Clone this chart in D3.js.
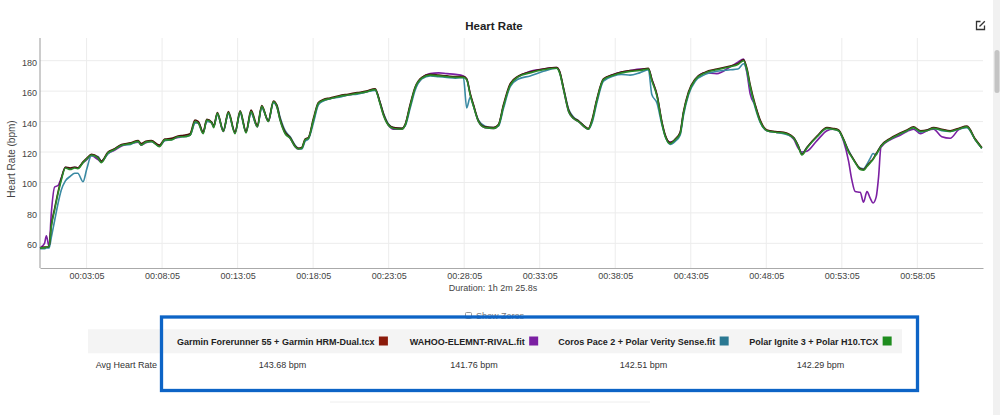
<!DOCTYPE html>
<html><head><meta charset="utf-8">
<script src="https://cdn.jsdelivr.net/npm/d3@7"></script>
<style>
body{margin:0;background:#fff;overflow:hidden}
svg{display:block;font-family:"Liberation Sans",Arial,sans-serif}
</style>
</head><body>
<svg id="c" width="1000" height="415"></svg>
<script>
// ---- DATA ----
const timeMin = [0.0,0.3,0.42,0.6,0.75,0.97,1.19,1.41,1.68,2.0,2.3,2.5,2.85,3.1,3.4,3.84,4.06,4.5,4.9,5.4,6.0,6.5,6.7,7.0,7.37,7.9,8.26,8.7,9.14,9.5,9.93,10.26,10.48,10.8,11.04,11.37,11.5,11.74,12.14,12.47,12.91,13.25,13.64,13.97,14.39,14.68,15.12,15.45,15.67,15.89,16.23,16.56,16.89,17.1,17.33,17.55,17.77,18.1,18.43,18.76,19.2,19.8,20.4,21.0,21.6,22.19,22.5,22.74,23.07,23.4,23.95,24.17,24.5,24.83,25.28,25.83,26.4,26.93,27.5,28.03,28.25,28.48,28.7,29.03,29.47,30.02,30.35,30.68,31.13,31.68,32.45,33.33,34.2,34.4,34.66,35.0,35.32,35.65,36.1,36.31,36.54,36.87,37.3,37.97,38.5,39.07,39.7,40.28,40.5,40.85,41.17,41.4,41.72,42.05,42.38,42.6,42.93,43.38,44.04,44.81,45.7,46.2,46.58,46.8,47.02,47.35,47.68,48.13,48.7,49.23,49.89,50.2,50.44,50.77,51.44,52.1,52.5,52.87,53.2,53.53,53.75,53.97,54.3,54.52,54.75,54.97,55.15,55.36,55.52,55.67,56.29,56.95,57.4,57.83,58.3,58.72,59.16,59.7,60.26,60.8,61.37,61.92,62.35];

const polarH10 = [57,57,57.5,58,71,82,92.5,101.5,109.5,108.5,109.5,109,113,115.5,118,116,113,119.5,121.5,124.5,125.5,127,124.5,126.5,127,123.5,128,128,130,130,131,140,139,132,141,139,136,145.5,133.5,146,132,146.5,132.5,146.5,136.5,150,140,153,150,141,132,129,123.5,122,122.5,128,129,141,152,154,155,156.5,157.5,158.5,159.5,161,152,144,137.5,135.5,135,137.5,150,162,168.5,170.5,170,169.5,169,169,167.5,157.5,150,140,136,135.5,137.5,150,164,169.5,172,174,175,172,161,146.5,142,140,136,135,140,154,167.5,170.5,172,173,173.5,174.5,167,156.5,139,130,125.5,128,132,145.5,158.5,167.5,172,174,176,177.5,180,174,163,150,140,134,133,132.5,129,123.5,118,122.5,130,135.5,135,134,128,120,116.5,113,108.5,108,110.5,113,115,118.5,121,123.5,128.5,132,134,136,133.5,134,135.5,134.5,133.5,135,136.5,128,122.5];

const garminHRM = [57,57.5,57.5,58,72,83,93.5,102.5,110,109.5,110,109.5,113.5,116,118.5,116.5,114,120,122,125,126,127.5,125.5,127,127.5,124.5,128.5,129,130.5,131,132,141,140,133,141.5,139.5,137,146,134,146.5,133,147,133.5,147.5,137.5,150.5,140.5,153.5,151,142,133,129.5,124,122.5,123,128.5,129.5,142,152.5,154.5,155.5,157,158,159,160,161.5,153,145,138,136,135.5,138,151,162.5,169,171,170.5,170,169.5,169.5,168,158.5,151,140.5,136.5,136,138,151,165,170,172.5,174.5,175.5,173,162,147.5,142.5,140.5,136.5,135.5,141,155,168,171,172.5,173.5,174,175,168,157.5,140,131,126,128.5,133,146.5,159.5,168,172.5,174.5,176.5,178,180.5,175,164,151,141,134.5,133.5,133,129.5,124,118.5,123,130.5,136,135.5,134.5,128.5,120.5,117,113.5,109,108.5,111,113.5,115.5,119,121.5,124,129,132.5,134.5,136.5,134,134.5,136,135,134,135.5,137,128.5,123];

const wahooRival = [57,60,65,58,80,97,98,103,110,109,110,109.5,113,115,117.5,115,113.5,119,121,124,125.5,126.5,124.5,126,127,124,127.5,128.5,129.5,130.5,131,139.5,139,132.5,140.5,139,136.5,145,133.5,145.5,132.5,146,133,146,136.5,149.5,140,152.5,150,141.5,132.5,129,123.5,122,122.5,127.5,129,140.5,151.5,154,155,156.5,157.5,158.5,159.5,161,152.5,144.5,137.5,135,135,137.5,150,161.5,168.5,171.5,172,171.5,171,170,168,158,150.5,140,136,135.5,137.5,150,164,169.5,173,174.5,175.5,172.5,161,146.5,142,140,136,135,140,154,167.5,171,172.5,173.5,174.5,174.5,168,157,139.5,130.5,126.5,128,132.5,145.5,158.5,167.5,172,171.5,176,179,181,172,158,150.5,140,134,133,132.5,128.5,122.5,120,120.5,127.5,134,135,134,127,114,101.5,94,93.5,87,94,89.5,86.5,90.5,104,123,128,131,133.5,135,132,134,135,130,129,134.5,136.5,128,122.5];

const corosVerity = [56.5,56.5,57,57,64,75,86,95,101,104,106,106,100.5,109,117.5,117,114,119,121.5,124.5,125,127,125,126.5,127,124,127.5,128,130,130,131,139,139.5,133,140,139.5,137,144.5,134.5,145,133,145.5,133.5,145.5,137,149,141,152,151,143,134,130,124.5,122.5,122,127,128.5,139,151,153.5,155,156,157.5,158,159.5,160.5,153,145.5,138.5,136,135.5,137,148.5,160.5,168,170,169.5,169,168.5,169,149,156,150,141,137,136,137,148.5,163,168,170,173,175,172.5,162,148,143,140.5,136.5,135,139,152.5,166.5,170,171,170.5,172,174,158,152,138,130,125,127,131,144,157.5,166.5,171,173,174,174.5,178,173,162,149,139.5,134,133,132,129.5,124,119,123,130,135.5,135,134,128,121,117,113,109.5,109,112,116,119,118,121.5,124,128.5,132,134,136,133,134.5,135.5,134,133.5,135,136,128,122.5];

const seriesNames = ["Garmin Forerunner 55 + Garmin HRM-Dual.tcx","WAHOO-ELEMNT-RIVAL.fit","Coros Pace 2 + Polar Verity Sense.fit","Polar Ignite 3 + Polar H10.TCX"];
const seriesValues = [garminHRM, wahooRival, corosVerity, polarH10];
const avgHeartRate = ["143.68 bpm","141.76 bpm","142.51 bpm","142.29 bpm"];
const xTickMinutes = [3+5/60, 8+5/60, 13+5/60, 18+5/60, 23+5/60, 28+5/60, 33+5/60, 38+5/60, 43+5/60, 48+5/60, 53+5/60, 58+5/60];
const yTicks = [60, 80, 100, 120, 140, 160, 180];
const durationMin = 62 + 25.8/60;

// ---- STYLE ----
const palette = ["#8b1a0a", "#7b1fa2", "#2a7892", "#1e8c1e"];
const lineColors = ["#4a1208", "#7b1fa2", "#3a8aa3", "#2a8a2a"];
const drawOrder = [1, 2, 0, 3];

const svg = d3.select("#c");
const L = 40, R = 983, T = 38, B = 268;
const x = d3.scaleLinear().domain([0, durationMin]).range([L, R]);
const y = d3.scaleLinear().domain([43.8, 194.9]).range([B, T]);

// title
svg.append("text").attr("x", 494).attr("y", 30).attr("text-anchor", "middle")
  .attr("font-size", 11.5).attr("font-weight", "bold").attr("fill", "#222").text("Heart Rate");
// edit icon
const ic = svg.append("g").attr("transform", "translate(976,21)").attr("fill", "none").attr("stroke", "#333").attr("stroke-width", 1.3);
ic.append("path").attr("d", "M4.5,0.5 H0.5 V8.5 H8.5 V4.5");
ic.append("path").attr("d", "M3.5,5.5 L8.8,0.2");

// grid
const grid = svg.append("g").attr("stroke", "#ececec").attr("stroke-width", 1);
grid.selectAll("line.h").data(yTicks).join("line").attr("class", "h")
  .attr("x1", L).attr("x2", R).attr("y1", d => y(d)).attr("y2", d => y(d));
grid.selectAll("line.v").data(xTickMinutes).join("line").attr("class", "v")
  .attr("y1", T).attr("y2", B).attr("x1", d => x(d)).attr("x2", d => x(d));

// axes
const fmt = m => { const s = Math.round(m * 60); const hh = Math.floor(s / 3600), mm = Math.floor(s % 3600 / 60), ss = s % 60;
  return [hh, mm, ss].map(v => String(v).padStart(2, "0")).join(":"); };
const gx = svg.append("g").attr("transform", `translate(0,${B})`)
  .call(d3.axisBottom(x).tickValues(xTickMinutes).tickFormat(fmt).tickSize(0).tickPadding(5));
const gy = svg.append("g").attr("transform", `translate(${L},0)`)
  .call(d3.axisLeft(y).tickValues(yTicks).tickSize(0).tickPadding(3));
gx.select(".domain").attr("stroke", "#aaa");
gy.select(".domain").attr("stroke", "#999").attr("d", `M0,${T}V${B}`);
[gx, gy].forEach(g => g.selectAll("text").attr("font-size", 9).attr("fill", "#444")
  .attr("font-family", '"Liberation Sans",Arial,sans-serif'));
gy.selectAll("text").attr("dy", "0.5em");

svg.append("text").attr("transform", "translate(15,159) rotate(-90)").attr("text-anchor", "middle")
  .attr("font-size", 10).attr("fill", "#444").text("Heart Rate (bpm)");
svg.append("text").attr("x", 493).attr("y", 291).attr("text-anchor", "middle")
  .attr("font-size", 9).attr("fill", "#444").text("Duration: 1h 2m 25.8s");

// lines
const line = d3.line().x((d, i) => x(timeMin[i])).y(d => y(d)).curve(d3.curveMonotoneX);
const lg = svg.append("g").attr("fill", "none").attr("stroke-width", 1.6).attr("stroke-linejoin", "round");
drawOrder.forEach(k => {
  lg.append("path").datum(seriesValues[k]).attr("d", line).attr("stroke", lineColors[k]);
});

// show zeros
svg.append("rect").attr("x", 465.5).attr("y", 312.5).attr("width", 6).attr("height", 6).attr("rx", 1)
  .attr("fill", "#fff").attr("stroke", "#999");
svg.append("text").attr("x", 476).attr("y", 319).attr("font-size", 9).attr("fill", "#777").text("Show Zeros");

// table
svg.append("rect").attr("x", 88).attr("y", 329.3).attr("width", 814).attr("height", 24).attr("fill", "#f4f4f4");
svg.append("line").attr("x1", 330).attr("x2", 650).attr("y1", 402).attr("y2", 402).attr("stroke", "#eeeeee");
const colCenters = [282.5, 474, 643.5, 820.5];
seriesNames.forEach((name, i) => {
  const g = svg.append("g");
  const t = g.append("text").attr("y", 344.5).attr("font-size", 9).attr("font-weight", "bold").attr("fill", "#222").text(name);
  const w = t.node().getComputedTextLength();
  const total = w + 4.5 + 9;
  const x0 = colCenters[i] - total / 2;
  t.attr("x", x0);
  g.append("rect").attr("x", x0 + w + 4.5).attr("y", 336.5).attr("width", 9).attr("height", 9).attr("fill", palette[i]);
  svg.append("text").attr("x", colCenters[i]).attr("y", 368).attr("text-anchor", "middle")
    .attr("font-size", 9).attr("fill", "#333").text(avgHeartRate[i]);
});
svg.append("text").attr("x", 95.7).attr("y", 368).attr("font-size", 9).attr("fill", "#333").text("Avg Heart Rate");

// highlight annotation box
svg.append("rect").attr("x", 161.5).attr("y", 317).attr("width", 756).attr("height", 73.5)
  .attr("fill", "none").attr("stroke", "#0d64c6").attr("stroke-width", 3.3);

// scrollbar
svg.append("rect").attr("x", 993).attr("y", 0).attr("width", 7).attr("height", 415).attr("fill", "#f1f1f1");
svg.append("rect").attr("x", 994.5).attr("y", 50).attr("width", 5).attr("height", 43).attr("rx", 2.5).attr("fill", "#c4c4c4");
</script>
</body></html>
